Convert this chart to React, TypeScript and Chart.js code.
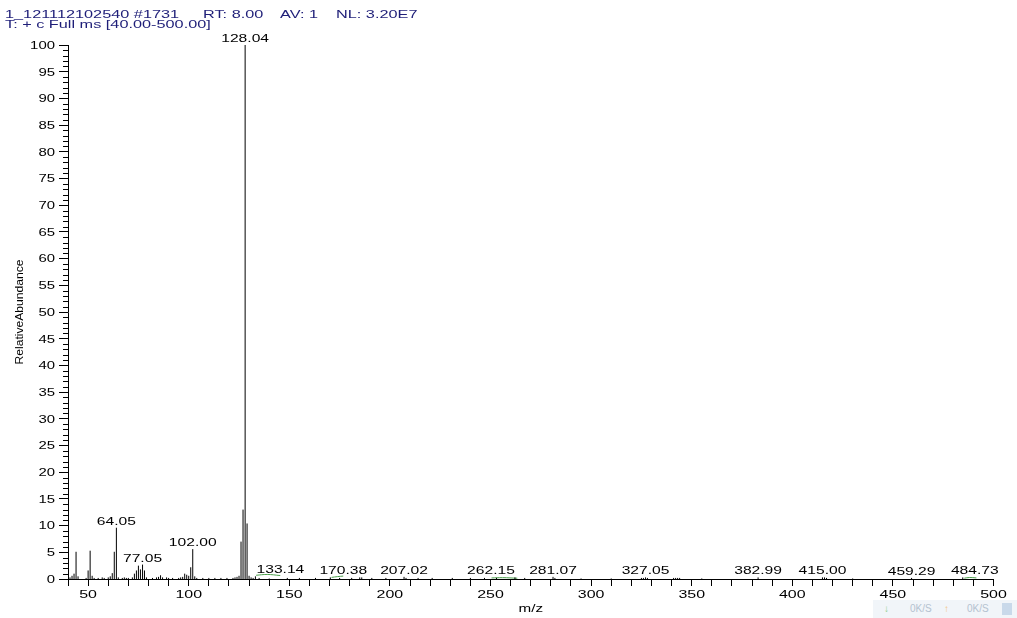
import React, { useEffect, useRef } from "react";
import { Chart, registerables } from "chart.js";

Chart.register(...registerables);

// ---- Data ----
const peakMz = [
  41, 42, 43, 44, 45, 49, 50, 51, 52, 53, 55, 57, 58, 60, 61, 62, 63, 64.05, 65, 67, 68, 69, 70,
  72, 73, 74, 75, 76, 77.05, 78, 79, 82, 84, 85, 86, 87, 89, 90, 92, 95, 96, 97, 98, 99, 100,
  101, 102.0, 103, 104, 107, 110, 113, 116, 119, 122, 123, 124, 125, 126, 127, 128.04, 129, 130,
  131, 132, 133.14, 135, 140, 149, 155, 163, 170.38, 175, 181, 185, 186, 191, 198, 207.02, 208,
  214, 221, 231, 240, 247, 253, 262.15, 267, 281.07, 282, 295, 310, 325, 326, 327.05, 328, 341,
  342, 343, 344, 355, 382.99, 415.0, 416, 417, 430, 459.29, 484.73,
];
const peakAbundance = [
  0.3, 0.6, 1.0, 5.1, 0.5, 0.2, 1.6, 5.3, 0.6, 0.2, 0.2, 0.3, 0.2, 0.3, 0.5, 1.1, 5.1, 9.6, 0.3, 0.2, 0.3, 0.2, 0.2,
  0.3, 1.0, 1.6, 2.5, 1.8, 2.7, 1.6, 0.3, 0.2, 0.3, 0.4, 0.7, 0.3, 0.3, 0.2, 0.2, 0.2, 0.3, 0.4, 1.0, 0.8, 0.6,
  2.2, 5.6, 0.5, 0.2, 0.2, 0.2, 0.2, 0.2, 0.2, 0.2, 0.3, 0.4, 0.6, 7.0, 13.0, 100, 10.4, 0.6,
  0.3, 0.2, 0.5, 0.2, 0.1, 0.2, 0.2, 0.2, 0.3, 0.2, 0.2, 0.3, 0.3, 0.2, 0.2, 0.4, 0.2,
  0.2, 0.2, 0.2, 0.2, 0.2, 0.2, 0.3, 0.2, 0.4, 0.2, 0.1, 0.1, 0.2, 0.2, 0.3, 0.2, 0.2,
  0.2, 0.2, 0.2, 0.1, 0.3, 0.3, 0.3, 0.2, 0.1, 0.2, 0.3,
];

// Peaks carrying an m/z annotation
const labelledMz = [128.04, 64.05, 77.05, 102.0, 133.14, 170.38, 207.02, 262.15, 281.07, 327.05, 382.99, 415.0, 459.29, 484.73];

// Small green profile traces near the baseline
const traceA_mz = [133.5, 139, 145.5];
const traceA_ab = [0.7, 0.85, 0.65];
const traceB_mz = [171, 174, 176.8];
const traceB_ab = [0.3, 0.45, 0.55];
const traceC_mz = [250.5, 256, 263.3];
const traceC_ab = [0.2, 0.25, 0.15];
const traceD_mz = [485.5, 488, 491.5];
const traceD_ab = [0.15, 0.28, 0.2];

// Header texts
const headerLine1 = ["1_121112102540 #1731", "RT: 8.00", "AV: 1", "NL: 3.20E7"];
const headerLine2 = "T: + c Full ms [40.00-500.00]";
const xTitle = "m/z";
const yTitle = "RelativeAbundance";

const X_MIN = 40;
const X_MAX = 500;
const Y_MIN = 0;
const Y_MAX = 100;

// ---- Layout-only settings (not data) ----
const header1X = [5, 203, 280, 336];
const labelShift: Record<string, number> = { "133.14": 25, "170.38": 13, "262.15": -24, "484.73": 12 };
const FONT = '"Liberation Sans", Arial, sans-serif';
const NAVY = "#1e1e78";

function buildSticks() {
  const pts: { x: number; y: number | null }[] = [];
  peakMz.forEach((m, i) => {
    pts.push({ x: m, y: 0 });
    pts.push({ x: m, y: peakAbundance[i] });
    pts.push({ x: m, y: null });
  });
  return pts;
}

function zipTrace(mz: number[], ab: number[]) {
  return mz.map((m, i) => ({ x: m, y: ab[i] }));
}

function drawStretched(
  ctx: CanvasRenderingContext2D,
  text: string,
  x: number,
  y: number,
  font: string,
  sx: number,
  align: "left" | "center" | "right",
  color: string
) {
  ctx.save();
  ctx.font = font;
  ctx.fillStyle = color;
  ctx.textBaseline = "alphabetic";
  ctx.textAlign = "left";
  const w = ctx.measureText(text).width * sx;
  const x0 = align === "center" ? x - w / 2 : align === "right" ? x - w : x;
  ctx.translate(x0, y);
  ctx.scale(sx, 1);
  ctx.fillText(text, 0, 0);
  ctx.restore();
}

// Snap the vertical stick strokes to whole pixel columns so they render crisp, like the reference
const crispSticksPlugin = {
  id: "crispSticks",
  beforeDatasetDraw(chart: any, args: any) {
    if (args.index !== 0) return;
    const ctx: any = chart.ctx;
    const proto = Object.getPrototypeOf(ctx);
    ctx.moveTo = (x: number, y: number) => proto.moveTo.call(ctx, Math.floor(x) + 0.5, y);
    ctx.lineTo = (x: number, y: number) => proto.lineTo.call(ctx, Math.floor(x) + 0.5, y);
  },
  afterDatasetDraw(chart: any, args: any) {
    if (args.index !== 0) return;
    const ctx: any = chart.ctx;
    delete ctx.moveTo;
    delete ctx.lineTo;
  },
};

const spectrumTextPlugin = {
  id: "spectrumText",
  afterDraw(chart: any) {
    const ctx: CanvasRenderingContext2D = chart.ctx;
    const xs = chart.scales.x;
    const ys = chart.scales.y;
    const { left, bottom, top, right } = chart.chartArea;

    // minor y ticks (every 1 unit)
    ctx.save();
    ctx.strokeStyle = "#000";
    ctx.lineWidth = 1;
    for (let v = Y_MIN; v <= Y_MAX; v += 1) {
      if (v % 5 === 0) continue;
      const py = Math.round(ys.getPixelForValue(v)) + 0.5;
      ctx.beginPath();
      ctx.moveTo(left - 5, py);
      ctx.lineTo(left, py);
      ctx.stroke();
    }
    ctx.restore();

    // y tick labels
    ys.ticks.forEach((t: any) => {
      const py = ys.getPixelForValue(t.value);
      drawStretched(ctx, String(t.value), left - 13, py + 3.8, `10.5px ${FONT}`, 1.42, "right", "#000");
    });

    // x tick labels
    xs.ticks.forEach((t: any) => {
      if (t.value % 50 !== 0) return;
      drawStretched(ctx, String(t.value), xs.getPixelForValue(t.value), bottom + 19, `11px ${FONT}`, 1.45, "center", "#000");
    });

    // peak annotations
    labelledMz.forEach((m) => {
      const idx = peakMz.indexOf(m);
      const ab = idx >= 0 ? peakAbundance[idx] : 0;
      const text = m.toFixed(2);
      const px = xs.getPixelForValue(m) + (labelShift[text] || 0);
      const py = ys.getPixelForValue(ab) - 3;
      drawStretched(ctx, text, px, py, `11px ${FONT}`, 1.42, "center", "#000");
    });

    // axis titles
    drawStretched(ctx, xTitle, (left + right) / 2, bottom + 33, `10.5px ${FONT}`, 1.45, "center", "#000");
    ctx.save();
    ctx.translate(20, (top + bottom) / 2);
    ctx.rotate(-Math.PI / 2);
    ctx.scale(1.21, 1);
    ctx.font = `10px ${FONT}`;
    ctx.fillStyle = "#000";
    ctx.textAlign = "center";
    ctx.textBaseline = "middle";
    ctx.fillText(yTitle, 0, 0);
    ctx.restore();

    // header
    headerLine1.forEach((s, i) => {
      drawStretched(ctx, s, header1X[i], 17.5, `10.5px ${FONT}`, 1.55, "left", NAVY);
    });
    drawStretched(ctx, headerLine2, 5, 28, `10.5px ${FONT}`, 1.55, "left", NAVY);
  },
};

export default function App() {
  const canvasRef = useRef<HTMLCanvasElement | null>(null);

  useEffect(() => {
    document.body.style.margin = "0";
    const canvas = canvasRef.current;
    if (!canvas) return;
    const green = "#4a9e4a";
    const chart = new Chart(canvas, {
      type: "scatter",
      data: {
        datasets: [
          {
            data: buildSticks(),
            showLine: true,
            spanGaps: false,
            borderColor: "#000",
            borderWidth: 1,
            pointRadius: 0,
            pointHoverRadius: 0,
          },
          { data: zipTrace(traceA_mz, traceA_ab), showLine: true, borderColor: green, borderWidth: 1, pointRadius: 0, tension: 0.4 },
          { data: zipTrace(traceB_mz, traceB_ab), showLine: true, borderColor: green, borderWidth: 1, pointRadius: 0, tension: 0.4 },
          { data: zipTrace(traceC_mz, traceC_ab), showLine: true, borderColor: green, borderWidth: 1, pointRadius: 0, tension: 0.4 },
          { data: zipTrace(traceD_mz, traceD_ab), showLine: true, borderColor: green, borderWidth: 1, pointRadius: 0, tension: 0.4 },
        ],
      } as any,
      options: {
        responsive: false,
        animation: false,
        devicePixelRatio: 1,
        layout: { padding: { left: 0, top: 45, right: 23.5, bottom: 0 } },
        plugins: { legend: { display: false }, tooltip: { enabled: false }, title: { display: false } },
        events: [],
        scales: {
          x: {
            type: "linear",
            min: X_MIN,
            max: X_MAX,
            ticks: { stepSize: 10, display: false, autoSkip: false },
            grid: { display: true, drawOnChartArea: false, drawTicks: true, tickLength: 7, color: "#000", lineWidth: 1 },
            border: { display: true, color: "#000", width: 1 },
            afterFit: (s: any) => {
              s.height = 39;
            },
          },
          y: {
            type: "linear",
            min: Y_MIN,
            max: Y_MAX,
            ticks: { stepSize: 5, display: false },
            grid: { display: true, drawOnChartArea: false, drawTicks: true, tickLength: 9, color: "#000", lineWidth: 1 },
            border: { display: true, color: "#000", width: 1 },
            afterFit: (s: any) => {
              s.width = 68;
            },
          },
        },
      } as any,
      plugins: [crispSticksPlugin, spectrumTextPlugin],
    });
    return () => chart.destroy();
  }, []);

  return (
    <div style={{ position: "fixed", left: 0, top: 0, width: 1017, height: 618, background: "#fff", overflow: "hidden" }}>
      <canvas ref={canvasRef} width={1017} height={618} style={{ display: "block" }} />
      <div
        style={{
          position: "absolute",
          left: 873,
          top: 600,
          width: 144,
          height: 18,
          background: "#f1f5f9",
          fontFamily: FONT,
          fontSize: 10,
          color: "#b4c2d0",
          lineHeight: "18px",
          whiteSpace: "pre",
        }}
      >
        <span style={{ position: "absolute", left: 11, color: "#8fcf8f" }}>↓</span>
        <span style={{ position: "absolute", left: 37 }}>0K/S</span>
        <span style={{ position: "absolute", left: 71, color: "#f3c27a" }}>↑</span>
        <span style={{ position: "absolute", left: 94 }}>0K/S</span>
        <span style={{ position: "absolute", left: 129, top: 3, width: 10, height: 12, background: "#c9d9ea" }} />
      </div>
    </div>
  );
}
